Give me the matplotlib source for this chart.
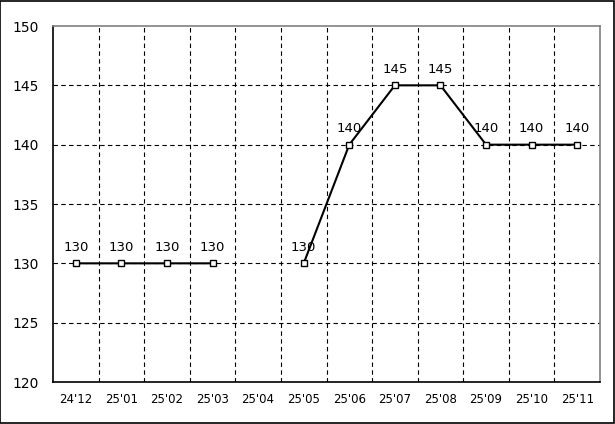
import matplotlib
matplotlib.use('Agg')
import matplotlib.pyplot as plt
import numpy as np

months = ["24'12", "25'01", "25'02", "25'03", "25'04", "25'05",
          "25'06", "25'07", "25'08", "25'09", "25'10", "25'11"]
values = [130, 130, 130, 130, None, 130, 140, 145, 145, 140, 140, 140]

fig = plt.figure(figsize=(6.15, 4.24), dpi=100)
fig.patch.set_facecolor('white')
fig.patches.append(plt.Rectangle((0.0008, 0.0012), 0.9976, 0.9964, transform=fig.transFigure,
                                 fill=False, edgecolor='black', linewidth=1.2))
ax = fig.add_axes([53/615, 1-382/424, 547/615, 356/424])

x = np.arange(len(months))
y = np.array([np.nan if v is None else v for v in values], dtype=float)
ax.plot(x, y, color='black', lw=1.5, marker='s', ms=5, mfc='white', mec='black', mew=1, zorder=3)
for xi, v in zip(x, values):
    if v is not None:
        ax.annotate(str(v), (xi, v), xytext=(0, 7), textcoords='offset points',
                    ha='center', va='bottom', fontsize=9.5)

ax.set_xlim(-0.5, len(months) - 0.5)
ax.set_ylim(120, 150)
ax.set_yticks(range(120, 151, 5))
ax.set_xticks(x)
ax.set_xticklabels(months, fontsize=8.5)
ax.tick_params(axis='y', labelsize=10, length=0, pad=10)
ax.tick_params(axis='x', length=0, pad=8)

for b in np.arange(0.5, len(months) - 1, 1):
    ax.axvline(b, color='black', lw=0.8, ls=(0, (4, 3)), zorder=1)
for t in range(125, 150, 5):
    ax.axhline(t, color='black', lw=0.8, ls=(0, (4, 3)), zorder=1)

ax.spines['left'].set_color('black')
ax.spines['bottom'].set_color('black')
ax.spines['top'].set_color('#808080')
ax.spines['right'].set_color('#808080')
for s in ax.spines.values():
    s.set_linewidth(1.2)

fig.savefig('out.png', dpi=100)
